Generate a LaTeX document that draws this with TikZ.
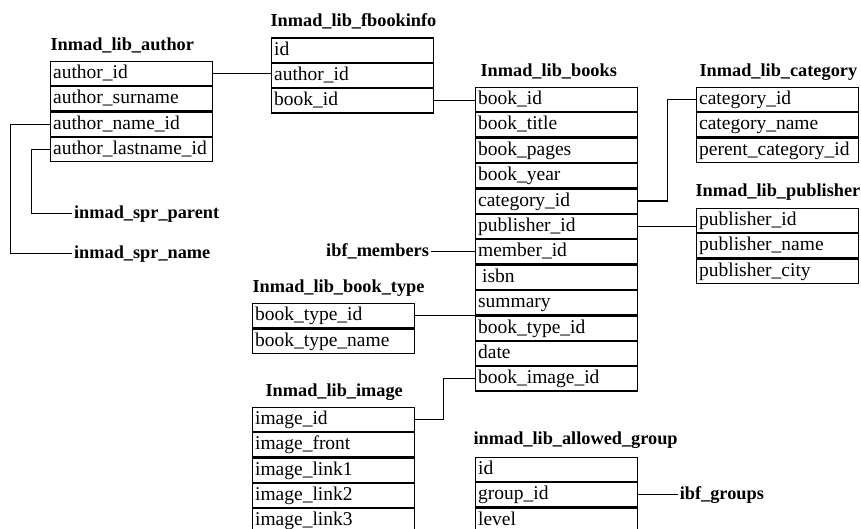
\documentclass[tikz,border=0pt]{standalone}
\usepackage{fontspec}
\setmainfont{Liberation Serif}
\usetikzlibrary{positioning}

\begin{document}
\begin{tikzpicture}
[x=1pt,y=-1pt,line width=1.2pt,node distance=0pt]
\tikzset{
	field/.style = {rectangle, draw, minimum width=161.5pt, minimum height=24.2pt, text width=156.5pt, inner xsep=2.5pt, inner ysep=0pt, align=left, text height=14pt, text depth=4pt, font=\fontsize{19.5}{21}\selectfont},
	first/.style = {field, anchor=north west},
	caption/.style = {anchor=base west, inner sep=0pt, font=\bfseries\fontsize{18.3}{20}\selectfont},
	outer/.style = {inner sep=1.5pt, text height=13pt, text depth=3pt, font=\bfseries\fontsize{18.3}{20}\selectfont}
}
\useasboundingbox (0,0) rectangle (861,528);

% author
\node[caption] (a-0) at (50,50) {Inmad\_lib\_author};
\node[first] (a-1) at (50,60.7) {author\_id};
\node[field, below=of a-1] (a-2) {author\_surname};
\node[field, below=of a-2] (a-3) {author\_name\_id};
\node[field, below=of a-3] (a-4) {author\_lastname\_id};

% fbookinfo
\node[caption] (f-0) at (270,26) {Inmad\_lib\_fbookinfo};
\node[first] (f-1) at (271,37.3) {id};
\node[field, below=of f-1] (f-2) {author\_id};
\node[field, below=of f-2] (f-3) {book\_id};

% books
\node[caption] (b-0) at (480,76) {Inmad\_lib\_books};
\node[first] (b-1) at (475,86.7) {book\_id};
\node[field, below=of b-1] (b-2) {book\_title};
\node[field, below=of b-2] (b-3) {book\_pages};
\node[field, below=of b-3] (b-4) {book\_year};
\node[field, below=of b-4] (b-5) {category\_id};
\node[field, below=of b-5] (b-6) {publisher\_id};
\node[field, below=of b-6] (b-7) {member\_id};
\node[field, below=of b-7] (b-8) {\hspace*{4pt}isbn};
\node[field, below=of b-8] (b-9) {summary};
\node[field, below=of b-9] (b-10) {book\_type\_id};
\node[field, below=of b-10] (b-11) {date};
\node[field, below=of b-11] (b-12) {book\_image\_id};

% category
\node[caption] (c-0) at (699,76) {Inmad\_lib\_category};
\node[first] (c-1) at (696,86.7) {category\_id};
\node[field, below=of c-1] (c-2) {category\_name};
\node[field, below=of c-2] (c-3) {perent\_category\_id};

% publisher
\node[caption] (p-0) at (695,196.5) {Inmad\_lib\_publisher};
\node[first] (p-1) at (696,207.7) {publisher\_id};
\node[field, below=of p-1] (p-2) {publisher\_name};
\node[field, below=of p-2] (p-3) {publisher\_city};

% book type
\node[caption] (t-0) at (252,292.7) {Inmad\_lib\_book\_type};
\node[first] (t-1) at (252,303) {book\_type\_id};
\node[field, below=of t-1] (t-2) {book\_type\_name};

% image
\node[caption] (i-0) at (265,396.5) {Inmad\_lib\_image};
\node[first] (i-1) at (252,406.5) {image\_id};
\node[field, below=of i-1] (i-2) {image\_front};
\node[field, below=of i-2] (i-3) {image\_link1};
\node[field, below=of i-3] (i-4) {image\_link2};
\node[field, below=of i-4] (i-5) {image\_link3};

% allowed group
\node[caption] (g-0) at (473,444.3) {inmad\_lib\_allowed\_group};
\node[first] (g-1) at (475,456.7) {id};
\node[field, below=of g-1] (g-2) {group\_id};
\node[field, below=of g-2] (g-3) {level};

% outside tables
\node[outer, anchor=west] (par) at (72,213.3) {inmad\_spr\_parent};
\node[outer, anchor=west] (nam) at (72,253.3) {inmad\_spr\_name};
\node[outer, left=44pt of b-7] (mem) {ibf\_members};
\node[outer, right=40pt of g-2] (grp) {ibf\_groups};

\draw (a-1.east) -- (a-1.east -| f-2.west);
\draw (f-3.east) -- (f-3.east -| b-1.west);
\draw (b-5.east) -- ++(29.5,0) |- (c-1.west);
\draw (b-6.east) -- (b-6.east -| p-1.west);
\draw (t-1.east) -- (t-1.east -| b-10.west);
\draw (i-1.east) -- ++(29,0) |- (b-12.west);
\draw (a-3.west) -- ++(-39.5,0) |- (nam.west);
\draw (a-4.west) -- ++(-18.5,0) |- (par.west);
\draw (mem.east) -- (b-7.west);
\draw (g-2.east) -- (grp.west);
\end{tikzpicture}
\end{document}
